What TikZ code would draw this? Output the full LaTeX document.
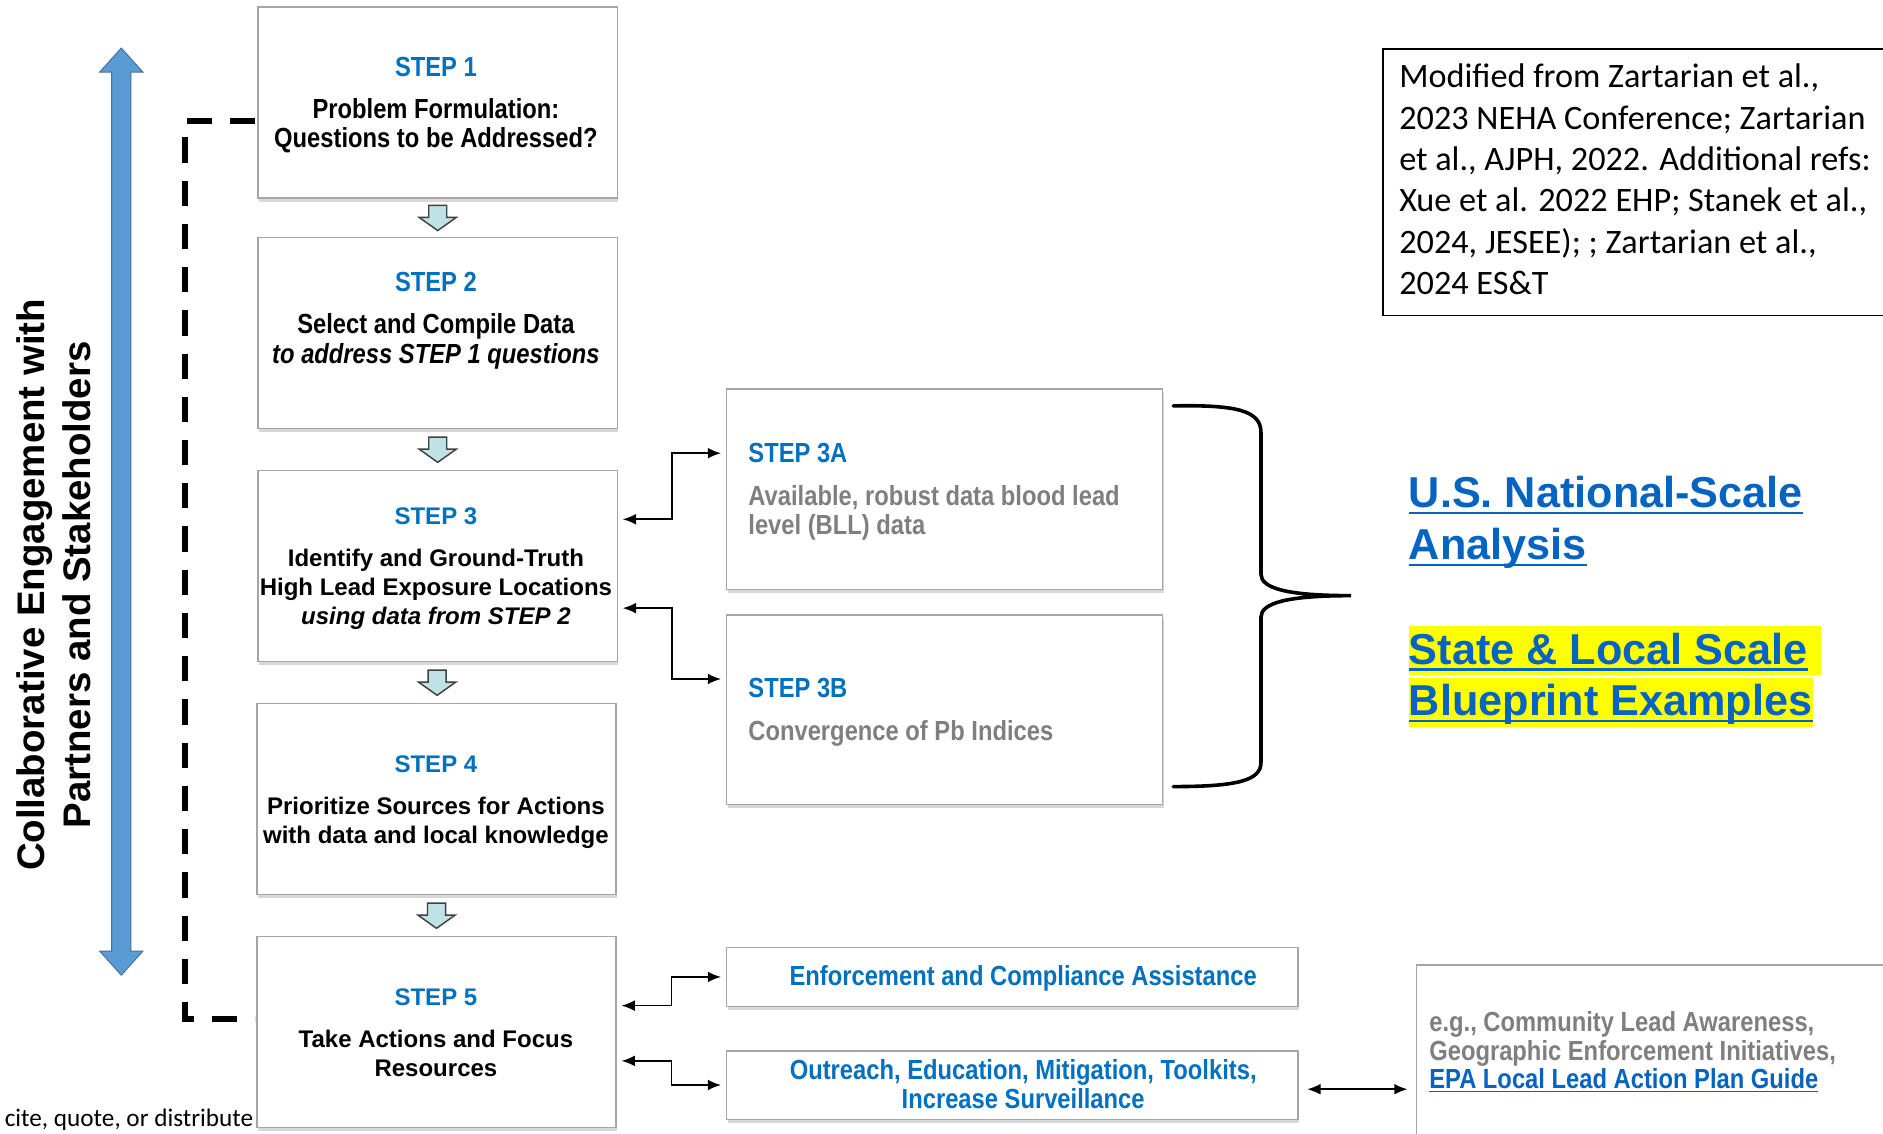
\documentclass[tikz,border=0pt]{standalone}
\usepackage{fontspec}
\setmainfont{Liberation Sans}
\newfontfamily\narrowbf[FakeStretch=0.86]{Liberation Sans}
\newfontfamily\carlito{Carlito}
\usetikzlibrary{calc,shadows,arrows.meta}
\definecolor{stepblue}{HTML}{0070C0}
\definecolor{linkblue}{HTML}{0563C1}
\definecolor{txtgray}{HTML}{7F7F7F}
\definecolor{boxgray}{HTML}{A6A6A6}
\definecolor{arrowblue}{HTML}{5B9BD5}
\definecolor{arrowedge}{HTML}{41719C}
\definecolor{arrfill}{HTML}{BFE2E6}
\definecolor{arrdraw}{HTML}{404040}
\definecolor{hlyellow}{HTML}{FFFF00}
\newcommand\lkul[1]{\setbox0=\hbox{#1}\rlap{\rule[-0.15em]{\wd0}{0.06em}}\box0}
\newcommand\hlul[2]{\setbox0=\hbox{#1}\rlap{\textcolor{hlyellow}{\rule[-0.25em]{\dimexpr\wd0+#2\relax}{1.13em}}}\rlap{\rule[-0.15em]{\wd0}{0.06em}}\box0}
\tikzset{
  shad/.style={drop shadow={shadow xshift=1pt, shadow yshift=-3pt, opacity=0.3}},
  stepbox/.style={draw=boxgray, line width=1.2pt, fill=white, inner sep=0pt, minimum width=299pt, minimum height=159pt, shad},
  sidebox/.style={draw=boxgray, line width=1.2pt, fill=white, inner sep=0pt, shad},
  regt/.style={font=\fontsize{20}{24}\selectfont\bfseries, anchor=base, inner sep=0pt},
  regi/.style={font=\fontsize{20}{24}\selectfont\bfseries\itshape, anchor=base, inner sep=0pt},
  regtitle/.style={regt, text=stepblue},
  nart/.style={font=\narrowbf\bfseries\fontsize{23}{24}\selectfont, anchor=base, inner sep=0pt},
  nari/.style={font=\narrowbf\bfseries\itshape\fontsize{23}{24}\selectfont, anchor=base, inner sep=0pt},
  nartitle/.style={nart, text=stepblue},
  narleft/.style={nart, anchor=base west},
  conn/.style={line width=1.3pt, <->, >={Latex[length=11pt,width=9pt]}, shorten <=4pt, shorten >=4pt},
  bigtxt/.style={font=\fontsize{36}{43}\selectfont\bfseries, text=linkblue, anchor=base west, inner sep=0pt},
  reftxt/.style={font=\carlito\fontsize{28.5}{34.5}\selectfont, anchor=base west, inner sep=0pt},
  downarr/.pic={\draw[fill=arrfill, draw=arrdraw, line width=1.2pt, line join=miter]
     (-7.5,-10.5) -- (7.5,-10.5) -- (7.5,-0.5) -- (15.5,-0.5) -- (0,10.5) -- (-15.5,-0.5) -- (-7.5,-0.5) -- cycle;}
}
\begin{document}
\begin{tikzpicture}[x=1pt,y=-1pt]
\useasboundingbox (0,0) rectangle (1568,944);
\clip (0,0) rectangle (1568,944);
\fill[white] (0,0) rectangle (1568,944);

% big double arrow and rotated label
\filldraw[fill=arrowblue, draw=arrowedge, line width=0.8pt]
  (101,40) -- (119,60) -- (109,60) -- (109,792) -- (119,792) -- (101,812)
  -- (83,792) -- (93,792) -- (93,60) -- (83,60) -- cycle;
\node[rotate=90, align=center, font=\fontsize{32}{38}\selectfont\bfseries, inner sep=0pt] (collab) at (45,487)
  {Collaborative Engagement with\\Partners and Stakeholders};

% step boxes
\node[stepbox] (s1) at (364.5,85.5) {};
\node[stepbox] (s2) at (364.5,277.5) {};
\node[stepbox] (s3) at (364.5,471.5) {};
\node[stepbox] (s4) at (363.5,665.5) {};
\node[stepbox] (s5) at (363.5,859.5) {};

% dashed feedback bracket
\coordinate (da) at ($(s1.north west)+(-2,95)$);
\coordinate (db) at ($(s5.north west)+(-1,69)$);
\draw[line width=5pt, dash pattern=on 21pt off 15pt] (da) -- ++(-58,0) |- (db);

% down arrows between steps
\pic at ($(s1.south)!0.5!(s2.north)$) {downarr};
\pic at ($(s2.south)!0.5!(s3.north)$) {downarr};
\pic at ($(s3.south)!0.5!(s4.north)$) {downarr};
\pic at ($(s4.south)!0.5!(s5.north)$) {downarr};

% step texts
\node[nartitle] (t1a) at (363,64) {STEP 1};
\node[nart] (t1b) at (363,99) {Problem Formulation:};
\node[nart] (t1c) at (363,123) {Questions to be Addressed?};

\node[nartitle] (t2a) at (363,243) {STEP 2};
\node[nart] (t2b) at (363,278) {Select and Compile Data};
\node[nari] (t2c) at (363,303) {to address STEP 1 questions};

\node[regtitle] (t3a) at (363,437) {STEP 3};
\node[regt] (t3b) at (363,472) {Identify and Ground-Truth};
\node[regt] (t3c) at (363,496) {High Lead Exposure Locations};
\node[regi] (t3d) at (363,520) {using data from STEP 2};

\node[regtitle] (t4a) at (363,643) {STEP 4};
\node[regt] (t4b) at (363,678) {Prioritize Sources for Actions};
\node[regt] (t4c) at (363,702) {with data and local knowledge};

\node[regtitle] (t5a) at (363,837) {STEP 5};
\node[regt] (t5b) at (363,872) {Take Actions and Focus};
\node[regt] (t5c) at (363,896) {Resources};

% step 3A / 3B
\node[sidebox, minimum width=363pt, minimum height=167pt] (s3a) at (786.5,407.5) {};
\node[sidebox, minimum width=363pt, minimum height=158pt] (s3b) at (786.5,591) {};
\node[narleft, text=stepblue] (t3aa) at (623,385) {STEP 3A};
\node[narleft, text=txtgray] (t3ab) at (623,421) {Available, robust data blood lead};
\node[narleft, text=txtgray] (t3ac) at (623,445) {level (BLL) data};
\node[narleft, text=stepblue] (t3ba) at (623,581) {STEP 3B};
\node[narleft, text=txtgray] (t3bb) at (623,617) {Convergence of Pb Indices};

\coordinate (c1) at ($(s3.north east)+(0,41)$);
\coordinate (c2) at ($(s3a.north west)+(0,54)$);
\draw[conn] (c1) -| ($(c1)!0.5!(c2)$) |- (c2);
\coordinate (c3) at ($(s3.north east)+(0,115)$);
\coordinate (c4) at ($(s3b.north west)+(0,54)$);
\draw[conn] (c3) -| ($(c3)!0.5!(c4)$) |- (c4);

% brace
\draw[line width=3pt, line cap=round]
  (977,338) .. controls (1030,337) and (1050,342) .. (1050,360) -- (1050,478)
  .. controls (1050,490) and (1072,496) .. (1125,496)
  .. controls (1072,496) and (1050,502) .. (1050,514) -- (1050,635)
  .. controls (1050,650) and (1030,655) .. (977,655);

% big link text
\node[bigtxt] (us1) at (1173,423) {\lkul{U.S. National-Scale}};
\node[bigtxt] (us2) at (1173,466) {\lkul{Analysis}};
\node[bigtxt] (sl1) at (1173,553) {\hlul{State \& Local Scale}{0.3em}};
\node[bigtxt] (sl2) at (1173,596) {\hlul{Blueprint Examples}{0pt}};

% reference box
\node[draw=black, line width=1.5pt, anchor=north west, minimum width=440pt, minimum height=222pt, inner sep=0pt] (refbox) at (1151,40) {};
\node[reftxt] (r1) at (1165,73) {Modified from Zartarian et al.,};
\node[reftxt] (r2) at (1165,107.5) {2023 NEHA Conference; Zartarian};
\node[reftxt] (r3) at (1165,142) {et al., AJPH, 2022. Additional refs:};
\node[reftxt] (r4) at (1165,176.5) {Xue et al. 2022 EHP; Stanek et al.,};
\node[reftxt] (r5) at (1165,211) {2024, JESEE); ; Zartarian et al.,};
\node[reftxt] (r6) at (1165,245.5) {2024 ES\&T};

% action boxes
\node[sidebox, minimum width=476pt, minimum height=49pt] (enf) at (843,813.5) {};
\node[sidebox, minimum width=476pt, minimum height=57pt] (outr) at (843,903.5) {};
\node[nart, text=stepblue] (te) at (852,821) {Enforcement and Compliance Assistance};
\node[nart, text=stepblue] (to1) at (852,899) {Outreach, Education, Mitigation, Toolkits,};
\node[nart, text=stepblue] (to2) at (852,923) {Increase Surveillance};

\coordinate (c5) at ($(s5.north east)+(0,58)$);
\draw[conn] (c5) -| ($(c5)!0.5!(enf.west)$) |- (enf.west);
\coordinate (c6) at ($(s5.north east)+(0,104)$);
\draw[conn] (c6) -| ($(c6)!0.5!(outr.west)$) |- (outr.west);

% examples box
\node[draw=boxgray, line width=1.2pt, anchor=north west, minimum width=420pt, minimum height=208pt, inner sep=0pt] (ex) at (1179,803) {};
\node[narleft, text=txtgray] (e1) at (1190,859) {e.g., Community Lead Awareness,};
\node[narleft, text=txtgray] (e2) at (1190,883) {Geographic Enforcement Initiatives,};
\node[narleft, text=linkblue] (e3) at (1190,906) {\lkul{EPA Local Lead Action Plan Guide}};
\coordinate (oa) at ($(outr.east)+(0,3.5)$);
\draw[conn, shorten <=7pt, shorten >=7pt] (oa) -- (oa -| ex.west);

% footer fragment
\node[font=\carlito\fontsize{21}{24}\selectfont, anchor=base east, inner sep=0pt] (foot) at (211,938) {cite, quote, or distribute};
\end{tikzpicture}
\end{document}
